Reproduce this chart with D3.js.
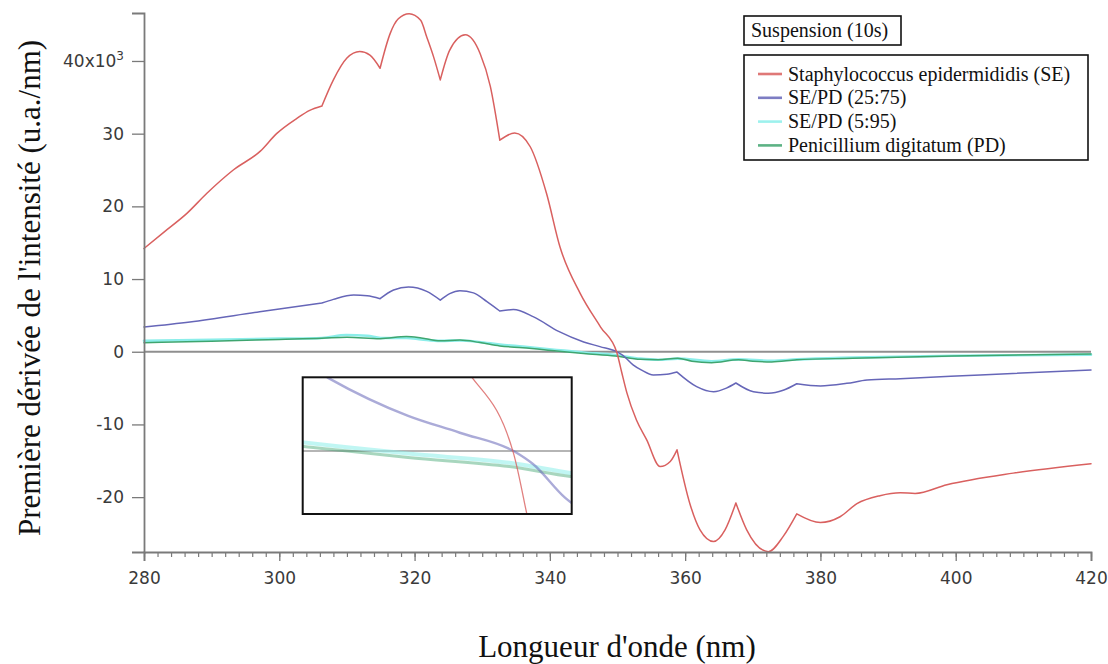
<!DOCTYPE html>
<html>
<head>
<meta charset="utf-8">
<script src="https://cdn.jsdelivr.net/npm/d3@7"></script>
<style>
  html, body { margin: 0; padding: 0; background: #fff; }
  svg { display: block; }
</style>
</head>
<body>
<svg id="chart" width="1108" height="664"></svg>
<script>
// ---------- DATA ----------
const xTicks = [280, 300, 320, 340, 360, 380, 400, 420];
const yTicks = [-20, -10, 0, 10, 20, 30, 40];
const yTickLabels = ["-20", "-10", "0", "10", "20", "30", "40x10"];

const seriesNames = [
  "Staphylococcus epidermididis (SE)",
  "SE/PD (25:75)",
  "SE/PD (5:95)",
  "Penicillium digitatum (PD)"
];
const seriesColors = ["#d9605f", "#6666b8", "#8ceeea", "#3fa56f"];

const cuspsSE = [306.3, 314.9, 323.8, 332.6, 358.8, 367.5, 376.5];

const seRed = [
  [280,14.2],[283,16.5],[286.3,19.0],[289.3,21.8],[293.2,25.0],[297.2,27.6],[299.6,30.0],
  [302.6,32.1],[304.5,33.2],[306.3,33.8],[308.0,37.4],[310.0,40.4],[311.9,41.3],[313.4,40.8],
  [314.9,39.0],[316.4,43.8],[317.6,45.8],[319.2,46.5],[320.9,45.6],[321.8,43.3],[322.8,40.6],
  [323.8,37.4],[325.2,41.5],[327.5,43.6],[329.7,41.0],[331.2,36.5],[332.6,29.1],[334.8,30.1],
  [337.1,28.2],[339.5,21.8],[341.5,14.4],[344.5,8.0],[347.5,3.4],[349.9,-0.1],[350.6,-2.75],
  [351.4,-5.7],[352.8,-9.4],[354.3,-12.1],[356.3,-15.8],[357.8,-15.1],[358.8,-13.5],
  [360.7,-20.9],[362.2,-24.5],[364.2,-26.1],[365.9,-24.5],[367.5,-20.8],[369.1,-24.5],
  [372.3,-27.5],[374.5,-25.4],[376.5,-22.3],[380.0,-23.5],[382.9,-22.7],[385.4,-20.9],
  [388.8,-19.8],[391.8,-19.4],[394.0,-19.5],[398.7,-18.3],[408.5,-16.7],[420,-15.4]
];

const mix2575 = [
  [280,3.4],[286.8,4.1],[297.1,5.5],[306.3,6.7],[308.0,7.2],[311.0,7.8],[313.0,7.7],[314.9,7.3],
  [316.9,8.5],[319.1,8.9],[321.8,8.3],[323.8,7.1],[325.2,8.0],[326.7,8.4],[328.7,8.1],[330.7,6.9],
  [332.6,5.6],[334.6,5.8],[337.6,4.8],[341.3,2.8],[345.0,1.35],[347.4,0.7],[350.0,-0.05],
  [350.8,-0.5],[352.3,-1.8],[353.5,-2.5],[355.3,-3.2],[357.3,-3.1],[358.8,-2.8],[361.7,-4.8],
  [364.2,-5.5],[366.1,-5.0],[367.5,-4.3],[370.1,-5.5],[372.3,-5.7],[374.5,-5.3],[376.5,-4.4],
  [380.0,-4.7],[383.9,-4.35],[386.9,-3.9],[391.8,-3.7],[403.6,-3.2],[420,-2.5]
];

const mix595 = [
  [280,1.5],[290,1.65],[300,1.8],[306.3,1.9],[309.9,2.3],[313,2.2],[315,1.9],[318.8,1.9],
  [321,1.7],[323.8,1.5],[326.7,1.55],[329.5,1.35],[332.6,1.0],[336,0.7],[341,0.25],[345,-0.1],
  [349.7,-0.45],[353.4,-0.95],[356,-1.1],[358.9,-0.95],[363.9,-1.3],[367.9,-1.05],[372.8,-1.25],
  [376.5,-1.05],[384.8,-0.8],[399.6,-0.55],[420,-0.4]
];

const pdGreen = [
  [280,1.25],[290,1.45],[300,1.7],[306.3,1.85],[310,2.0],[314.9,1.8],[318.8,2.1],[321,1.9],
  [323.8,1.5],[326.7,1.6],[329.5,1.3],[332.6,0.8],[336,0.55],[341,0.1],[345,-0.25],[349.7,-0.6],
  [353.4,-1.05],[356,-1.1],[358.9,-0.9],[361,-1.3],[363.9,-1.5],[367.9,-1.1],[370,-1.3],
  [372.8,-1.4],[376.5,-1.1],[384.8,-0.9],[399.6,-0.6],[420,-0.3]
];

const insetXDomain = [340.1, 352.6];
const insetYDomain = [-2.42, 2.83];

// ---------- CHART ----------
const svg = d3.select("#chart");
svg.append("rect").attr("width",1108).attr("height",664).attr("fill","#fff");

const x = d3.scaleLinear().domain([280, 420]).range([144, 1091]);
const y = d3.scaleLinear().domain([-27.55, 46.6]).range([552, 13]);

function segs(data, cusps) {
  const out = []; let cur = [];
  data.forEach(d => {
    cur.push(d);
    if (cusps.includes(d[0]) && cur.length > 1) { out.push(cur); cur = [d]; }
  });
  if (cur.length > 1) out.push(cur);
  return out;
}
function pathFor(data, cusps, xs, ys) {
  const line = d3.line().x(d => xs(d[0])).y(d => ys(d[1])).curve(d3.curveMonotoneX);
  return segs(data, cusps).map(s => line(s)).join("");
}

const series = [
  {data: mix595, cusps: [], color: seriesColors[2], w: 2.6},
  {data: pdGreen, cusps: [], color: seriesColors[3], w: 1.5},
  {data: mix2575, cusps: cuspsSE, color: seriesColors[1], w: 1.5},
  {data: seRed, cusps: cuspsSE, color: seriesColors[0], w: 1.5}
];

// zero line
svg.append("line")
  .attr("x1", x(280)).attr("x2", x(420))
  .attr("y1", y(0)).attr("y2", y(0))
  .attr("stroke", "#8f8f8f").attr("stroke-width", 2.2);

const gLines = svg.append("g");
series.forEach(s => {
  gLines.append("path")
    .attr("d", pathFor(s.data, s.cusps, x, y))
    .attr("fill", "none").attr("stroke", s.color)
    .attr("stroke-width", s.w).attr("stroke-linecap", "round").attr("stroke-linejoin", "round");
});

// axes
const axisColor = "#7a7a7a";
const xAxisMinor = d3.axisBottom(x).tickValues(d3.range(280, 421, 2)).tickSize(5).tickFormat("");
const gxm = svg.append("g").attr("transform", `translate(0,552)`).call(xAxisMinor);
gxm.select(".domain").remove();
gxm.selectAll("line").attr("stroke", axisColor).attr("stroke-width", 1.2);

const xAxis = d3.axisBottom(x).tickValues(xTicks).tickSize(9).tickPadding(11).tickFormat(d3.format("d"));
const gx = svg.append("g").attr("transform", `translate(0,552)`).call(xAxis);
gx.select(".domain").attr("stroke", axisColor).attr("stroke-width", 1.8);
gx.selectAll("line").attr("stroke", axisColor).attr("stroke-width", 1.3);
gx.selectAll("text").attr("font-family", "DejaVu Sans").attr("font-size", 17).attr("fill", "#3a3a3a");

const yAxis = d3.axisLeft(y).tickValues(yTicks).tickSize(12).tickPadding(8)
  .tickFormat((d, i) => yTickLabels[i]);
const gy = svg.append("g").attr("transform", `translate(144,0)`).call(yAxis);
gy.select(".domain").attr("stroke", axisColor).attr("stroke-width", 1.8);
gy.selectAll("line").attr("stroke", axisColor).attr("stroke-width", 1.3);
gy.selectAll("text").attr("font-family", "DejaVu Sans").attr("font-size", 17).attr("fill", "#3a3a3a");
gy.selectAll(".tick text").filter(d => d === 40).each(function() {
  d3.select(this).append("tspan").attr("dy", "-0.55em").attr("font-size", 12).text("3");
});

// inset
const ix = d3.scaleLinear().domain(insetXDomain).range([302.7, 571.7]);
const iy = d3.scaleLinear().domain(insetYDomain).range([514, 377.3]);
const inset = svg.append("g");
inset.append("clipPath").attr("id", "insetClip")
  .append("rect").attr("x", 302.7).attr("y", 377.3).attr("width", 269).attr("height", 136.7);
inset.append("rect").attr("x", 302.7).attr("y", 377.3).attr("width", 269).attr("height", 136.7)
  .attr("fill", "#fff");
const ic = inset.append("g").attr("clip-path", "url(#insetClip)");
ic.append("line").attr("x1", 302.7).attr("x2", 571.7).attr("y1", iy(0)).attr("y2", iy(0))
  .attr("stroke", "#b5b5b5").attr("stroke-width", 2.2);
const insetStyle = [
  {w: 4, o: 0.55}, {w: 3, o: 0.45}, {w: 2.4, o: 0.55}, {w: 1.3, o: 0.8}
];
series.forEach((s, i) => {
  ic.append("path")
    .attr("d", pathFor(s.data, s.cusps, ix, iy))
    .attr("fill", "none").attr("stroke", s.color)
    .attr("stroke-width", insetStyle[i].w).attr("stroke-opacity", insetStyle[i].o);
});
inset.append("rect").attr("x", 302.7).attr("y", 377.3).attr("width", 269).attr("height", 136.7)
  .attr("fill", "none").attr("stroke", "#111").attr("stroke-width", 2);

// legend
const serif = "'Liberation Serif', 'Times New Roman', serif";
svg.append("rect").attr("x", 744).attr("y", 16).attr("width", 157).attr("height", 29)
  .attr("fill", "#fff").attr("stroke", "#111").attr("stroke-width", 1.6);
svg.append("text").attr("x", 751).attr("y", 37).style("font-family", serif).attr("font-size", 20)
  .attr("fill", "#111").text("Suspension (10s)");

svg.append("rect").attr("x", 744).attr("y", 55).attr("width", 344).attr("height", 105)
  .attr("fill", "#fff").attr("stroke", "#111").attr("stroke-width", 1.6);
const legendOrder = [0, 1, 2, 3];
legendOrder.forEach((k, i) => {
  const cy = 74 + i * 23.8;
  svg.append("line").attr("x1", 758).attr("x2", 782).attr("y1", cy).attr("y2", cy)
    .attr("stroke", seriesColors[k]).attr("stroke-width", 2.6).attr("stroke-opacity", 0.85);
  svg.append("text").attr("x", 788).attr("y", cy + 6.5).style("font-family", serif)
    .attr("font-size", 20).attr("fill", "#111").text(seriesNames[k]);
});

// axis titles
svg.append("text").attr("x", 617).attr("y", 657).attr("text-anchor", "middle")
  .style("font-family", serif).attr("font-size", 31).attr("fill", "#111")
  .text("Longueur d'onde (nm)");
svg.append("text").attr("transform", "translate(40,288) rotate(-90)").attr("text-anchor", "middle")
  .style("font-family", serif).attr("font-size", 31).attr("fill", "#111")
  .text("Première dérivée de l'intensité (u.a./nm)");
</script>
</body>
</html>
